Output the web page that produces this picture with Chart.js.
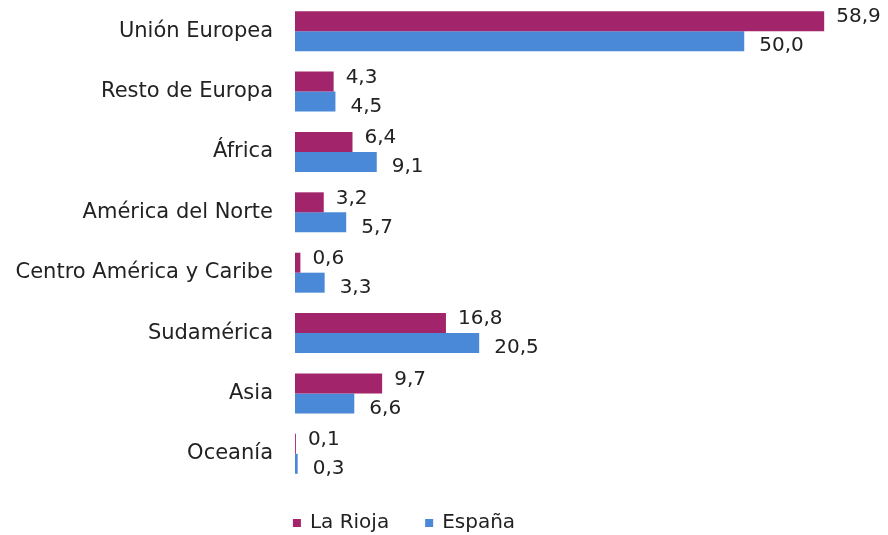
<!DOCTYPE html>
<html>
<head>
<meta charset="utf-8">
<script src="https://cdn.jsdelivr.net/npm/chart.js@4"></script>
<style>
    html, body { margin: 0; padding: 0; background: #fff; }
    #wrap { width: 888px; height: 535px; }
</style>
</head>
<body>
<div id="wrap"><canvas id="chart"></canvas></div>
<script>
// datos
const regiones = ['Unión Europea', 'Resto de Europa', 'África', 'América del Norte',
    'Centro América y Caribe', 'Sudamérica', 'Asia', 'Oceanía'];
const laRioja = [58.9, 4.3, 6.4, 3.2, 0.6, 16.8, 9.7, 0.1];
const espana = [50.0, 4.5, 9.1, 5.7, 3.3, 20.5, 6.6, 0.3];
const series = ['La Rioja', 'España'];
const colores = ['#A2246A', '#4A88D8'];

const fuente = '"DejaVu Sans", sans-serif';

// etiquetas de valor al final de cada barra
const etiquetas = {
    id: 'etiquetas',
    afterDatasetsDraw(chart) {
        const ctx = chart.ctx;
        ctx.save();
        ctx.font = '20px ' + fuente;
        ctx.fillStyle = '#222';
        ctx.textAlign = 'left';
        ctx.textBaseline = 'middle';
        chart.data.datasets.forEach((ds, i) => {
            const meta = chart.getDatasetMeta(i);
            meta.data.forEach((bar, j) => {
                const txt = ds.data[j].toFixed(1).replace('.', ',');
                const dx = i === 0 ? 12 : 15;
                const dy = i === 0 ? -4 : 5;
                ctx.fillText(txt, bar.x + dx, bar.y + dy);
            });
        });
        ctx.restore();
    }
};

// leyenda dibujada a mano abajo
const leyenda = {
    id: 'leyenda',
    afterDraw(chart) {
        const ctx = chart.ctx;
        ctx.save();
        ctx.font = '20px ' + fuente;
        ctx.textBaseline = 'middle';
        const caja = 8, hueco = 9, sep = 36;
        const anchos = series.map(s => ctx.measureText(s).width);
        let total = 0;
        anchos.forEach((w, i) => { total += caja + hueco + w + (i > 0 ? sep : 0); });
        let x = 404 - total / 2;
        const y = 523;
        series.forEach((s, i) => {
            ctx.fillStyle = colores[i];
            ctx.fillRect(x, y - caja / 2, caja, caja);
            ctx.fillStyle = '#222';
            ctx.fillText(s, x + caja + hueco, y);
            x += caja + hueco + anchos[i] + sep;
        });
        ctx.restore();
    }
};

new Chart(document.getElementById('chart'), {
    type: 'bar',
    data: {
        labels: regiones,
        datasets: [
            { label: series[0], data: laRioja, backgroundColor: colores[0] },
            { label: series[1], data: espana, backgroundColor: colores[1] }
        ]
    },
    options: {
        indexAxis: 'y',
        responsive: true,
        maintainAspectRatio: false,
        animation: false,
        layout: { padding: { top: 1, right: 9, bottom: 51, left: 0 } },
        datasets: { bar: { categoryPercentage: 0.662, barPercentage: 1.0 } },
        scales: {
            x: { display: false, min: 0, max: 65 },
            y: {
                grid: { display: false, drawTicks: false },
                border: { display: false },
                ticks: { color: '#222', padding: 22, font: { family: fuente, size: 21 } },
                afterFit(scale) {
                    scale.width = 295;
                    // el padding de los ticks no debe empujar el area hacia abajo
                    scale.paddingTop = 0;
                    scale.paddingBottom = 0;
                }
            }
        },
        plugins: {
            legend: { display: false },
            tooltip: { enabled: false }
        }
    },
    plugins: [etiquetas, leyenda]
});
</script>
</body>
</html>
